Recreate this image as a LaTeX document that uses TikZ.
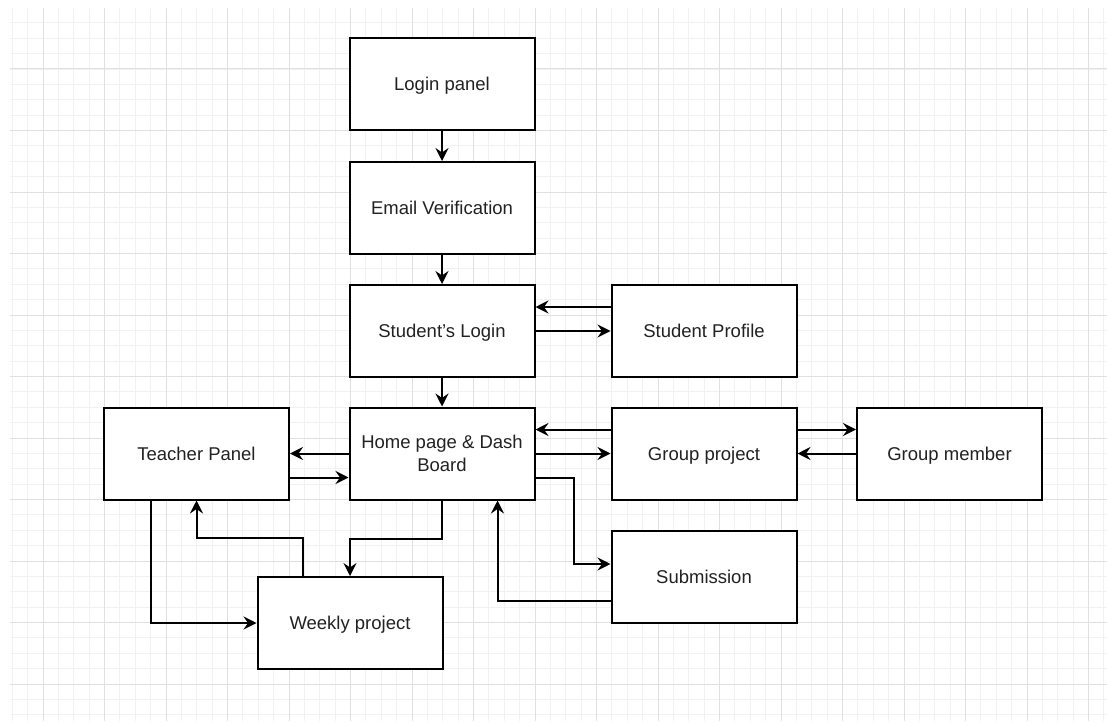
\documentclass[tikz,border=0pt]{standalone}
\usepackage{fontspec}
\setmainfont{Liberation Sans}
\usetikzlibrary{arrows.meta}
\definecolor{gridmajor}{HTML}{E0E0E0}
\definecolor{gridminor}{HTML}{F1F1F1}
\definecolor{txt}{HTML}{222222}
\tikzset{
  box/.style={draw=black, line width=2pt, fill=white, minimum width=185pt, minimum height=92pt,
    inner sep=0pt, align=center, text=txt, text depth=0pt, font=\fontsize{18.5}{23}\selectfont},
  arr/.style={draw=black, line width=2pt, -{Stealth[length=13pt,width=13pt,inset=4.5pt]}},
  gminor/.style={draw=gridminor, line width=0.8pt},
  gmajor/.style={draw=gridmajor, line width=1pt},
}
\begin{document}
\begin{tikzpicture}[x=1pt,y=-1pt]
\useasboundingbox (0,0) rectangle (1107,722);
\fill[white] (0,0) rectangle (1107,722);
\begin{scope}
\clip (10,9) rectangle (1107,720);
\foreach \i in {-2,...,69} {
  \draw[gminor] ({43+15.375*\i},0) -- ({43+15.375*\i},722);
}
\foreach \j in {-4,...,42} {
  \draw[gminor] (0,{69+15.375*\j}) -- (1107,{69+15.375*\j});
}
\foreach \i in {-1,...,17} {
  \draw[gmajor] ({43+61.5*\i},0) -- ({43+61.5*\i},722);
}
\foreach \j in {-1,...,10} {
  \draw[gmajor] (0,{69+61.5*\j}) -- (1107,{69+61.5*\j});
}
\end{scope}

\node[box] (login) at (442,84) {Login panel};
\node[box] (email) at (442,208) {Email Verification};
\node[box] (slogin) at (442,331) {Student's Login};
\node[box] (profile) at (704,331) {Student Profile};
\node[box] (home) at (442,453.5) {Home page \& Dash\\Board};
\node[box] (group) at (704,453.5) {Group project};
\node[box] (member) at (949.5,453.5) {Group member};
\node[box] (teacher) at (196.5,453.5) {Teacher Panel};
\node[box] (submission) at (704,577) {Submission};
\node[box] (weekly) at (350,623) {Weekly project};

\draw[arr] (login) -- (email);
\draw[arr] (email) -- (slogin);
\draw[arr] (slogin) -- (home);
\draw[arr] ([yshift=-23pt]profile.north west) -- ([yshift=-23pt]slogin.north east);
\draw[arr] (slogin.east) -- (profile.west);
\draw[arr] ([yshift=-23pt]group.north west) -- ([yshift=-23pt]home.north east);
\draw[arr] (home.east) -- (group.west);
\draw[arr] ([yshift=-23pt]group.north east) -- ([yshift=-23pt]member.north west);
\draw[arr] (member.west) -- (group.east);
\draw[arr] (home.west) -- (teacher.east);
\draw[arr] ([yshift=23pt]teacher.south east) -- ([yshift=23pt]home.south west);
\draw[arr] ([yshift=23pt]home.south east) -- ++(38,0) |- ([yshift=-34pt]submission.north west);
\draw[arr] ([yshift=23pt]submission.south west) -| ([xshift=149pt]home.south west);
\draw[arr] (home.south) -- ++(0,38) -| (weekly.north);
\draw[arr] ([xshift=46pt]weekly.north west) -- ++(0,-38) -| (teacher.south);
\draw[arr] ([xshift=-46pt]teacher.south) |- (weekly.west);
\end{tikzpicture}
\end{document}
